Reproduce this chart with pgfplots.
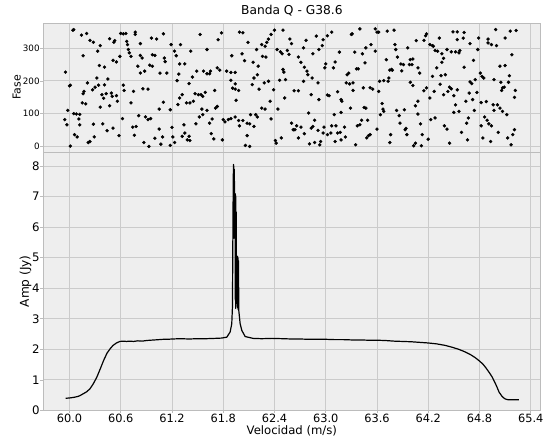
\documentclass[border=0pt]{standalone}
\usepackage{pgfplots}
\pgfplotsset{compat=1.18}
\usepackage{fontspec}
\setmainfont{DejaVu Sans}
\definecolor{bgc}{HTML}{EEEEEE}
\definecolor{gridc}{HTML}{CBCBCB}
\definecolor{axc}{HTML}{BCBCBC}
\pgfplotstableread{
x y
59.953 227
60.04 355
60.05 357
60.01 1
59.98 110
59.945 82
59.97 66
60.01 187
60.0 185
60.05 100
60.08 99
60.12 98
60.11 84
60.12 66
60.06 36
60.09 29
60.14 340
60.2 345
60.24 324
60.28 318
60.16 277
60.21 194
60.17 168
60.16 161
60.15 133
60.19 130
60.27 173
60.3 181
60.34 187
60.32 209
60.33 291
60.36 308
60.35 247
60.41 242
60.41 188
60.45 206
60.38 158
60.4 147
60.43 161
60.49 163
60.5 153
60.55 155
60.36 120
60.47 124
60.56 138
60.47 329
60.52 318
60.53 323
60.51 263
60.55 258
60.28 68
60.39 69
60.44 48
60.51 56
60.29 29
60.24 15
60.22 12
60.58 33
60.62 85
60.59 275
60.6 345
60.63 344
60.66 345
60.67 321
60.68 311
60.69 296
60.7 286
60.63 187
60.64 171
60.77 349
60.77 342
60.72 275
60.83 278
60.85 270
60.83 314
60.75 168
60.72 133
60.8 245
60.83 224
60.88 230
60.86 176
60.92 175
60.81 94
60.89 90
60.92 82
60.95 85
60.74 59
60.78 61
60.76 34
60.87 12
60.93 0
60.96 331
61.02 328
61.1 344
60.97 280
61.0 278
60.94 248
60.97 245
61.06 224
61.11 270
61.12 259
61.14 224
61.1 135
61.05 114
61.18 112
61.05 53
61.0 25
61.09 29
61.07 7
61.18 3
61.19 311
61.2 58
61.23 291
61.25 277
61.3 311
61.29 252
61.35 252
61.28 221
61.26 201
61.42 291
61.53 342
61.61 296
61.4 192
61.44 212
61.49 230
61.57 230
61.61 222
61.64 222
61.65 230
61.32 158
61.29 148
61.27 128
61.37 133
61.41 133
61.45 138
61.47 161
61.51 158
61.54 158
61.56 153
61.59 165
61.7 171
61.55 114
61.61 110
61.52 90
61.56 97
61.48 69
61.64 71
61.67 84
61.34 66
61.21 29
61.23 12
61.32 31
61.35 41
61.38 20
61.4 31
61.41 18
61.66 39
61.69 23
61.71 117
61.73 122
61.78 347
61.74 326
61.73 240
61.76 233
61.8 82
61.82 75
61.86 82
61.89 85
61.94 90
61.79 20
61.84 230
61.89 226
61.94 226
61.89 202
61.94 191
61.94 175
61.91 178
61.98 171
61.95 141
61.9 277
61.99 349
62.03 347
62.02 283
62.05 262
62.09 318
61.98 79
61.99 63
62.03 79
62.08 71
62.11 69
62.08 33
62.06 3
62.11 0
62.16 61
62.12 97
62.18 97
62.2 90
62.14 189
62.16 209
62.15 257
62.19 296
62.2 219
62.21 245
62.22 175
62.25 117
62.29 114
62.28 194
62.33 199
62.25 311
62.29 306
62.31 318
62.33 328
62.36 342
62.4 355
62.26 275
62.3 273
62.36 84
62.35 138
62.39 173
62.46 202
62.44 114
62.41 18
62.42 10
62.43 296
62.47 289
62.49 283
62.5 235
62.51 227
62.53 204
62.5 355
62.48 26
62.52 148
62.55 293
62.57 281
62.58 328
62.6 314
62.63 170
62.68 170
62.6 71
62.62 51
62.64 51
62.66 63
62.68 26
62.71 59
62.75 39
62.81 8
62.77 324
62.74 301
62.68 273
62.71 257
62.75 242
62.78 230
62.79 219
62.84 209
62.74 199
62.85 283
62.89 337
62.92 296
62.96 308
62.97 326
63.02 338
63.07 349
62.91 194
62.83 158
62.92 143
62.8 102
62.87 80
62.83 56
62.85 61
62.91 49
62.98 59
62.97 41
62.87 12
62.93 5
62.94 15
63.02 36
63.0 252
62.99 240
63.02 157
63.04 155
63.09 240
63.11 258
63.16 288
63.06 41
63.07 63
63.11 15
63.12 63
63.14 41
63.17 43
63.22 59
63.23 29
63.18 20
63.1 97
63.18 104
63.14 167
63.18 143
63.19 138
63.24 194
63.25 219
63.27 224
63.28 191
63.32 194
63.32 171
63.34 288
63.3 342
63.31 344
63.29 117
63.36 237
63.38 237
63.37 63
63.4 66
63.42 80
63.49 80
63.5 33
63.48 26
63.52 36
63.35 5
63.4 359
63.43 283
63.46 255
63.44 179
63.45 119
63.47 117
63.47 301
63.53 311
63.52 179
63.55 175
63.58 359
63.6 349
63.62 349
63.58 291
63.63 199
63.68 201
63.73 199
63.74 209
63.62 168
63.6 53
63.66 131
63.67 114
63.68 107
63.64 97
63.71 265
63.75 233
63.77 235
63.78 233
63.72 352
63.8 355
63.76 36
63.75 12
63.81 311
63.82 296
63.84 273
63.88 252
63.89 231
63.91 250
63.83 110
63.86 94
63.87 71
63.92 112
63.93 51
63.95 36
63.94 55
63.96 301
63.99 265
63.98 250
64.02 267
64.01 250
63.99 196
64.02 186
64.05 124
64.06 323
64.03 2
64.05 10
64.08 240
64.1 224
64.15 170
64.18 179
64.08 138
64.08 99
64.11 69
64.13 36
64.12 2
64.15 324
64.17 338
64.18 344
64.2 22
64.22 148
64.22 311
64.25 308
64.26 306
64.28 293
64.31 291
64.25 214
64.27 168
64.3 240
64.34 190
64.35 216
64.4 219
64.33 331
64.36 257
64.38 269
64.36 283
64.23 82
64.28 87
64.38 158
64.43 168
64.45 181
64.47 176
64.5 155
64.54 173
64.42 296
64.47 289
64.52 289
64.56 286
64.57 293
64.49 350
64.54 350
64.62 348
64.54 326
64.61 331
64.39 63
64.42 53
64.45 10
64.52 127
64.5 104
64.56 107
64.62 242
64.69 314
64.73 263
64.78 296
64.79 331
64.59 43
64.66 20
64.67 87
64.65 71
64.64 138
64.68 163
64.69 197
64.71 192
64.72 143
64.75 204
64.77 165
64.74 110
64.81 224
64.83 214
64.85 209
64.82 134
64.88 137
64.82 63
64.86 90
64.89 80
64.91 69
64.94 63
64.84 26
64.93 15
64.9 328
64.9 316
64.94 311
65.0 308
64.99 357
64.97 204
65.05 196
65.07 179
65.06 171
65.09 181
64.96 127
64.97 110
65.01 127
65.04 117
65.07 107
65.12 97
65.02 43
65.04 245
65.1 247
65.15 216
65.14 196
65.1 331
65.16 352
65.23 354
65.18 280
65.22 171
65.21 150
65.13 26
65.17 5
65.19 36
65.21 51
}\phasedata
\pgfplotstableread{
x y
59.955 0.40
60.0 0.41
60.05 0.43
60.1 0.46
60.125 0.49
60.15 0.53
60.2 0.61
60.24 0.71
60.28 0.88
60.32 1.09
60.36 1.36
60.4 1.64
60.44 1.88
60.476 2.02
60.51 2.13
60.55 2.21
60.59 2.26
60.63 2.27
60.67 2.26
60.7 2.27
60.75 2.26
60.8 2.28
60.85 2.27
60.9 2.29
60.945 2.30
61.0 2.31
61.05 2.32
61.1 2.33
61.15 2.33
61.2 2.34
61.3 2.35
61.4 2.34
61.5 2.35
61.6 2.35
61.7 2.36
61.78 2.37
61.842 2.40
61.881 2.57
61.900 2.84
61.908 3.39
61.912 5.25
61.917 7.43
61.920 8.05
61.922 5.8
61.924 8.0
61.926 5.64
61.928 7.9
61.930 5.7
61.932 7.5
61.935 5.8
61.938 6.6
61.940 7.1
61.942 3.6
61.944 7.05
61.946 3.34
61.948 7.0
61.950 3.4
61.952 6.5
61.955 3.6
61.960 3.9
61.964 3.5
61.967 5.05
61.970 3.35
61.973 5.0
61.976 3.3
61.979 4.9
61.982 3.28
61.998 2.84
62.018 2.62
62.057 2.42
62.15 2.36
62.25 2.35
62.37 2.36
62.5 2.35
62.6 2.34
62.7 2.34
62.8 2.33
62.9 2.33
63.0 2.33
63.1 2.32
63.2 2.32
63.3 2.31
63.4 2.31
63.5 2.30
63.6 2.30
63.7 2.29
63.8 2.27
63.9 2.26
64.0 2.25
64.1 2.23
64.2 2.21
64.3 2.18
64.4 2.13
64.48 2.07
64.56 2.0
64.63 1.92
64.7 1.82
64.75 1.73
64.8 1.62
64.84 1.52
64.88 1.38
64.92 1.22
64.95 1.09
64.98 0.92
65.0 0.8
65.03 0.6
65.06 0.48
65.08 0.42
65.1 0.38
65.13 0.355
65.17 0.35
65.26 0.35
}\ampdata
\begin{document}
\begin{tikzpicture}
\useasboundingbox (0,0) rectangle (544bp,436bp);
\pgfplotsset{common/.style={
  scale only axis, width=497.7bp, xmin=59.69, xmax=65.517,
  axis background/.style={fill=bgc},
  grid=major, major grid style={gridc, line width=0.9bp},
  axis line style={axc, line width=0.9bp},
  tick style={axc, line width=0.8bp},
  tick align=outside, major tick length=2.7bp,
  xtick={60.0,60.6,61.2,61.8,62.4,63.0,63.6,64.2,64.8,65.4},
  xtick pos=left, ytick pos=left,
  /pgf/number format/assume math mode=true,
  anchor=south west,
}}
\begin{axis}[common, at={(43bp,284bp)}, height=129bp,
  ymin=-17, ymax=377, ytick={0,100,200,300},
  xticklabels={},
  yticklabel style={font=\fontsize{8.8}{10}\selectfont, inner sep=0.5bp},
  title={Banda Q - G38.6},
  title style={at={(axis description cs:0.5,1)}, anchor=base, yshift=3bp, inner sep=0pt, font=\fontsize{12.3}{14}\selectfont},
  ylabel={Fase},
  every axis y label/.style={at={(axis description cs:-0.0452,0.5)}, rotate=90, anchor=base, inner sep=0pt, font=\fontsize{11}{13}\selectfont},
]
\addplot[only marks, mark=*, mark size=1.5bp, black] table[x=x,y=y] {\phasedata};
\end{axis}
\begin{axis}[common, at={(43bp,25.5bp)}, height=258.5bp,
  ymin=0, ymax=8.46, ytick={0,1,2,3,4,5,6,7,8},
  xticklabel style={font=\fontsize{11.4}{13}\selectfont, anchor=base, inner sep=0pt, yshift=-9.3bp, /pgf/number format/.cd, fixed, fixed zerofill, precision=1},
  yticklabel style={font=\fontsize{11.8}{14}\selectfont, inner sep=0.5bp},
  xlabel={Velocidad (m/s)},
  every axis x label/.style={at={(axis description cs:0.5,0)}, anchor=base, inner sep=0pt, yshift=-23.5bp, font=\fontsize{11.7}{14}\selectfont},
  ylabel={Amp (Jy)},
  every axis y label/.style={at={(axis description cs:-0.0283,0.5)}, rotate=90, anchor=base, inner sep=0pt, font=\fontsize{12.2}{14}\selectfont},
]
\addplot[black, line width=1.2bp, line join=round, mark=none] table[x=x,y=y] {\ampdata};
\end{axis}
\end{tikzpicture}
\end{document}
